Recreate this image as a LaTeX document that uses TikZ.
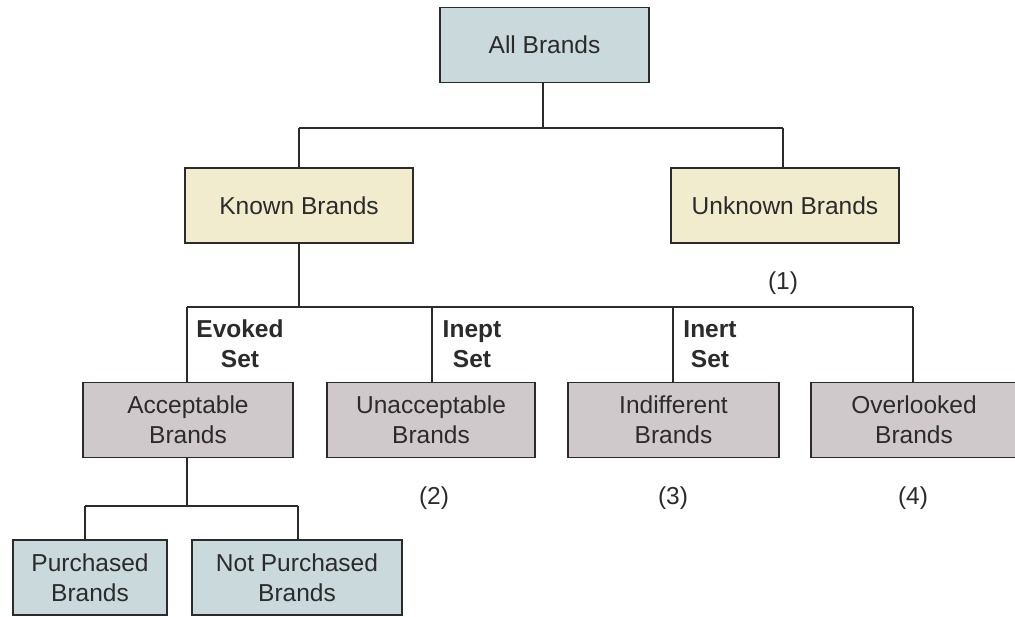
\documentclass[tikz,border=0pt]{standalone}
\usepackage{fontspec}
\setmainfont{Liberation Sans}
\definecolor{boxblue}{HTML}{CAD9DC}
\definecolor{boxyellow}{HTML}{F1ECCD}
\definecolor{boxgray}{HTML}{D0C9CC}
\definecolor{ink}{HTML}{2B2B2B}
\begin{document}
\begin{tikzpicture}[x=1pt,y=-1pt,
  every node/.style={font=\fontsize{24.5}{30}\selectfont, text=ink},
  brandbox/.style={draw=ink, line width=1.8pt, align=center, inner sep=0pt, minimum height=75pt},
  blue/.style={brandbox, fill=boxblue},
  yellow/.style={brandbox, fill=boxyellow},
  gray/.style={brandbox, fill=boxgray},
  setlabel/.style={font=\bfseries\fontsize{24.5}{30}\selectfont, align=center, text=ink},
  link/.style={draw=ink, line width=1.8pt}]
\useasboundingbox (0,0) rectangle (1015,617);
\begin{scope}
\clip (0,0) rectangle (1015,617);

% tree nodes
\node[blue, minimum width=209pt] (all) at (544.5,45) {All Brands};
\node[yellow, minimum width=228pt] (known) at (299,205.5) {Known Brands};
\node[yellow, minimum width=228pt] (unknown) at (785,205.5) {Unknown Brands};

\node[gray, minimum width=210pt] (accept) at (188,420) {Acceptable\\Brands};
\node[gray, minimum width=208pt] (unaccept) at (431,420) {Unacceptable\\Brands};
\node[gray, minimum width=211pt] (indiff) at (673.5,420) {Indifferent\\Brands};
\node[gray, minimum width=206pt] (overlook) at (914,420) {Overlooked\\Brands};

\node[blue, minimum width=154pt] (purch) at (90,577.5) {Purchased\\Brands};
\node[blue, minimum width=210pt] (notpurch) at (297,577.5) {Not Purchased\\Brands};

% junction points
\coordinate (j1) at (543,128);
\coordinate (j2) at (299,307);
\coordinate (j3) at (187,506);

% connectors
\draw[link] (all.south -| j1) -- (j1);
\draw[link] (299,128) -- (783,128);
\draw[link] (299,128) -- (known.north);
\draw[link] (783,128) -- (783,168);
\draw[link] (known.south) -- (j2);
\draw[link] (187,307) -- (913,307);
\draw[link] (187,307) -- (187,383);
\draw[link] (432,307) -- (432,383);
\draw[link] (673,307) -- (673,383);
\draw[link] (913,307) -- (913,383);
\draw[link] (187,458) -- (j3);
\draw[link] (85,506) -- (298,506);
\draw[link] (85,506) -- (85,540);
\draw[link] (298,506) -- (298,540);

% set labels
\node[setlabel] (evoked) at (240,344) {Evoked\\Set};
\node[setlabel] (inept) at (472,344) {Inept\\Set};
\node[setlabel] (inert) at (710,344) {Inert\\Set};

% numbered notes
\node (n1) at (783,283) {(1)};
\node (n2) at (434,498) {(2)};
\node (n3) at (673,498) {(3)};
\node (n4) at (913,498) {(4)};
\end{scope}
\end{tikzpicture}
\end{document}
